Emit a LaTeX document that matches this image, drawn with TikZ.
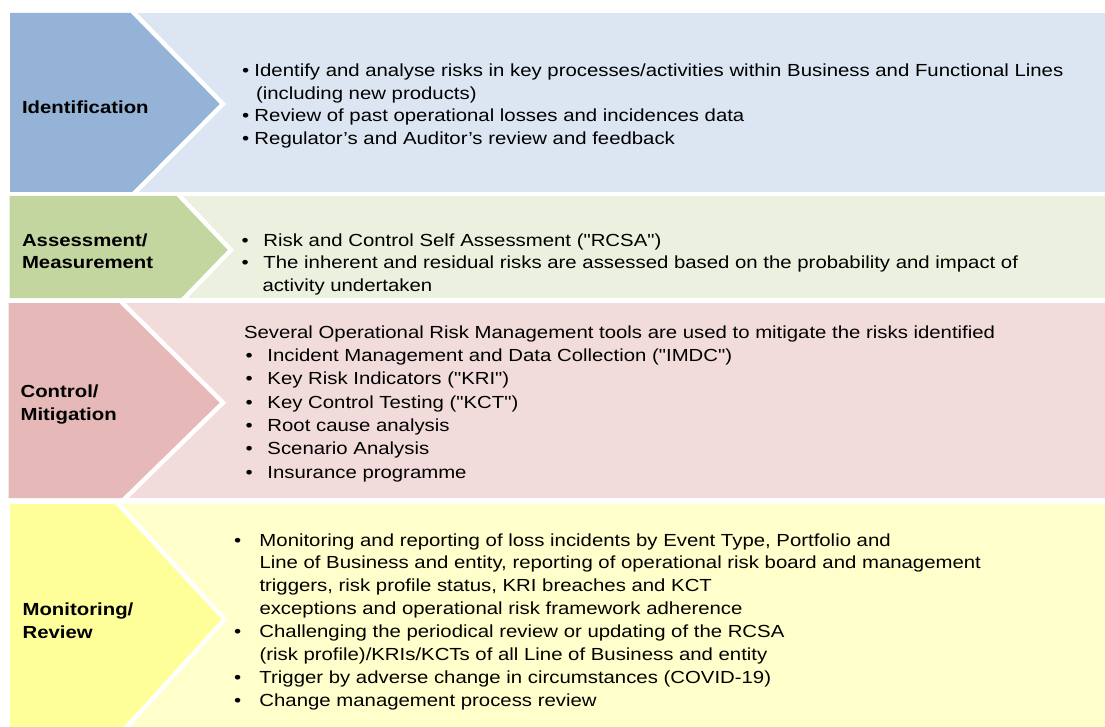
\documentclass[tikz,border=0pt]{standalone}
\usepackage{fontspec}
\setmainfont{Liberation Sans}[FakeStretch=1.163,Ligatures=TeXOff]
\definecolor{chevA}{HTML}{95B3D7}
\definecolor{panA}{HTML}{DCE6F2}
\definecolor{chevB}{HTML}{C4D6A0}
\definecolor{panB}{HTML}{EBF1DE}
\definecolor{chevC}{HTML}{E6B9B8}
\definecolor{panC}{HTML}{F2DCDB}
\definecolor{chevD}{HTML}{FFFF99}
\definecolor{panD}{HTML}{FFFFCC}
\newcommand\blist[2]{\vtop{\baselineskip=#1\relax\lineskiplimit=-40pt\lineskip=0pt\halign{##\hfil\cr#2\crcr}}}
\newcommand\itm[2]{\makebox[#1][l]{•}#2}
\tikzset{
  txt/.style={anchor=base west, inner sep=0pt, outer sep=0pt, text=black},
  lbl/.style={txt, font=\fontsize{17.5pt}{22.5pt}\selectfont\bfseries},
  body/.style={txt, font=\fontsize{17.5pt}{22.5pt}\selectfont},
  sep/.style={white, line width=4.4pt, miter limit=10, shorten <=-6pt, shorten >=-6pt}
}
\begin{document}
\begin{tikzpicture}[x=1pt,y=-1pt]
\useasboundingbox (0,0) rectangle (1105,727);
\fill[white] (0,0) rectangle (1105,727);
% row 1
\begin{scope}
\clip (10,13) rectangle (1105,192);
\fill[panA] (10,13) rectangle (1105,192);
\fill[chevA] (10,13) -- (134,13) -- (223,104) -- (135.5,192) -- (10,192) -- cycle;
\draw[sep] (134,13) -- (223,104) -- (135.5,192);
\end{scope}
% row 2
\begin{scope}
\clip (9.5,196) rectangle (1105,298);
\fill[panB] (9.5,196) rectangle (1105,298);
\fill[chevB] (9.5,196) -- (179.7,196) -- (231,250) -- (184.5,298) -- (9.5,298) -- cycle;
\draw[sep] (179.7,196) -- (231,250) -- (184.5,298);
\end{scope}
% row 3
\begin{scope}
\clip (8.5,303) rectangle (1105,498);
\fill[panC] (8.5,303) rectangle (1105,498);
\fill[chevC] (8.5,303) -- (122.5,303) -- (223,402.7) -- (125.5,498) -- (8.5,498) -- cycle;
\draw[sep] (122.5,303) -- (223,402.7) -- (125.5,498);
\end{scope}
% row 4
\begin{scope}
\clip (10,504) rectangle (1105,727);
\fill[panD] (10,504) rectangle (1105,727);
\fill[chevD] (10,504) -- (118.3,504) -- (224.7,619.3) -- (126.7,727) -- (10,727) -- cycle;
\draw[sep] (118.3,504) -- (224.7,619.3) -- (126.7,727);
\end{scope}
% labels
\node[lbl] (l1) at (22,113.3) {Identification};
\node[lbl] (l2) at (22,246.7) {\blist{21.6pt}{Assessment/\cr Measurement}};
\node[lbl] (l3) at (20.6,397.7) {\blist{23pt}{Control/\cr Mitigation}};
\node[lbl] (l4) at (22.6,615) {\blist{23.3pt}{Monitoring/\cr Review}};
% texts
\node[body] (t1) at (242,77) {\blist{22.5pt}{%
\itm{12.5pt}{Identify and analyse risks in key processes/activities within Business and Functional Lines}\cr
\hspace*{14pt}(including new products)\cr
\itm{12.5pt}{Review of past operational losses and incidences data}\cr
\itm{12.5pt}{Regulator’s and Auditor’s review and feedback}}};
\node[body] (t2) at (241.5,246.5) {\blist{22.5pt}{%
\itm{22pt}{Risk and Control Self Assessment ("RCSA")}\cr
\itm{22pt}{The inherent and residual risks are assessed based on the probability and impact of}\cr
\hspace*{21pt}activity undertaken}};
\node[body] (t3) at (244,338.3) {\blist{23.33pt}{%
Several Operational Risk Management tools are used to mitigate the risks identified\cr
\hspace*{1.5pt}\itm{22pt}{Incident Management and Data Collection ("IMDC")}\cr
\hspace*{1.5pt}\itm{22pt}{Key Risk Indicators ("KRI")}\cr
\hspace*{1.5pt}\itm{22pt}{Key Control Testing ("KCT")}\cr
\hspace*{1.5pt}\itm{22pt}{Root cause analysis}\cr
\hspace*{1.5pt}\itm{22pt}{Scenario Analysis}\cr
\hspace*{1.5pt}\itm{22pt}{Insurance programme}}};
\node[body] (t4) at (234,546) {\blist{22.95pt}{%
\itm{25.5pt}{Monitoring and reporting of loss incidents by Event Type, Portfolio and}\cr
\hspace*{25.5pt}Line of Business and entity, reporting of operational risk board and management\cr
\hspace*{25.5pt}triggers, risk profile status, KRI breaches and KCT\cr
\hspace*{25.5pt}exceptions and operational risk framework adherence\cr
\itm{25.5pt}{Challenging the periodical review or updating of the RCSA}\cr
\hspace*{25.5pt}(risk profile)/KRIs/KCTs of all Line of Business and entity\cr
\itm{25.5pt}{Trigger by adverse change in circumstances (COVID-19)}\cr
\itm{25.5pt}{Change management process review}}};
\end{tikzpicture}
\end{document}
